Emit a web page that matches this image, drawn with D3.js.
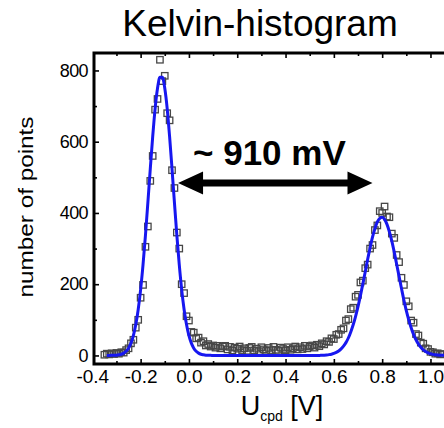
<!DOCTYPE html>
<html><head><meta charset="utf-8">
<script src="https://cdn.jsdelivr.net/npm/d3@7"></script>
<style>
html,body{margin:0;padding:0;background:#fff;}
svg{display:block;font-family:"Liberation Sans",Arial,Helvetica,sans-serif;}
</style></head>
<body><svg id="c" width="444" height="428"></svg>
<script>
// ---- data ----
const binVoltage = [
-0.35,-0.34,-0.33,-0.32,-0.31,-0.30,-0.29,-0.28,-0.27,-0.26,
-0.25,-0.24,-0.23,-0.22,-0.21,-0.20,-0.19,-0.18,-0.17,-0.16,
-0.15,-0.14,-0.13,-0.12,-0.11,-0.10,-0.09,-0.08,-0.07,-0.06,
-0.05,-0.04,-0.03,-0.02,-0.01,0.00,0.01,0.02,0.03,0.04,
0.05,0.06,0.07,0.08,0.09,0.10,0.11,0.12,0.13,0.14,
0.15,0.16,0.17,0.18,0.19,0.20,0.21,0.22,0.23,0.24,
0.25,0.26,0.27,0.28,0.29,0.30,0.31,0.32,0.33,0.34,
0.35,0.36,0.37,0.38,0.39,0.40,0.41,0.42,0.43,0.44,
0.45,0.46,0.47,0.48,0.49,0.50,0.51,0.52,0.53,0.54,
0.55,0.56,0.57,0.58,0.59,0.60,0.61,0.62,0.63,0.64,
0.65,0.66,0.67,0.68,0.69,0.70,0.71,0.72,0.73,0.74,
0.75,0.76,0.77,0.78,0.79,0.80,0.81,0.82,0.83,0.84,
0.85,0.86,0.87,0.88,0.89,0.90,0.91,0.92,0.93,0.94,
0.95,0.96,0.97,0.98,0.99,1.00,1.01,1.02,1.03,1.04,1.05];
const binCounts = [
2,5,3,6,4,7,5,9,8,15,
20,34,44,78,100,162,198,305,362,490,
560,690,720,830,770,785,680,660,520,470,
345,300,200,175,110,98,66,64,48,50,
36,40,28,32,25,28,22,27,20,25,
27,17,24,14,22,19,25,15,20,13,
21,24,14,19,12,23,17,13,21,15,
24,16,13,22,18,14,23,16,20,25,
17,23,18,27,20,25,28,22,30,26,
34,31,40,38,48,46,58,60,72,76,
98,102,130,134,165,170,205,210,245,255,
300,310,352,365,405,400,418,390,388,342,
330,282,262,218,198,152,138,98,92,60,
56,36,33,20,18,10,9,5,6,3,4];
const fitVoltage = [
-0.34,-0.33,-0.32,-0.31,-0.30,-0.29,-0.28,-0.27,-0.26,-0.25,
-0.24,-0.23,-0.22,-0.21,-0.20,-0.19,-0.18,-0.17,-0.16,-0.15,
-0.14,-0.13,-0.12,-0.11,-0.10,-0.09,-0.08,-0.07,-0.06,-0.05,
-0.04,-0.03,-0.02,-0.01,0.00,0.01,0.02,0.03,0.04,0.05,
0.06,0.07,0.08,0.09,0.10,0.11,0.12,0.13,0.14,0.15,
0.16,0.17,0.18,0.19,0.20,0.21,0.22,0.23,0.24,0.25,
0.26,0.27,0.28,0.29,0.30,0.31,0.32,0.33,0.34,0.35,
0.36,0.37,0.38,0.39,0.40,0.41,0.42,0.43,0.44,0.45,
0.46,0.47,0.48,0.49,0.50,0.51,0.52,0.53,0.54,0.55,
0.56,0.57,0.58,0.59,0.60,0.61,0.62,0.63,0.64,0.65,
0.66,0.67,0.68,0.69,0.70,0.71,0.72,0.73,0.74,0.75,
0.76,0.77,0.78,0.79,0.80,0.81,0.82,0.83,0.84,0.85,
0.86,0.87,0.88,0.89,0.90,0.91,0.92,0.93,0.94,0.95,
0.96,0.97,0.98,0.99,1.00,1.01,1.02,1.03,1.04,1.05,1.06];
const fitCounts = [
0,0.1,0.3,0.4,0.8,1.9,3.4,6.5,11.8,20.5,
34.5,55.7,86.6,129,185,255,337,429,524,614,
693,750,781,781,750,693,614,524,429,337,
255,185,129,86.6,55.7,34.5,20.5,11.8,6.5,3.4,
1.9,0.8,0.4,0.3,0.1,0,0,0,0,0,
0,0,0,0,0,0,0,0,0,0,
0,0,0,0,0,0,0,0,0,0,
0,0,0,0,0,0,0,0,0,0,
0,0,0,0,0,0,0,0,0,0.5,
0.8,1.4,2.3,3.6,5.6,8.5,12.5,18.3,26,36,
49,66,86,110,137,168,201,235,270,302,
332,356,375,385,388,382,368,347,321,290,
256,222,188,155,126,100,78,59,44,32,
23,16,11,7.3,4.7,3,1.8,1.1,0.6,0.3,0.2];
const xMajorTicks = [-0.4,-0.2,0.0,0.2,0.4,0.6,0.8,1.0];
const xTickLabels = ["-0.4","-0.2","0.0","0.2","0.4","0.6","0.8","1.0"];
const xMinorTicks = [-0.3,-0.1,0.1,0.3,0.5,0.7,0.9];
const yMajorTicks = [0,200,400,600,800];
const yTickLabels = ["0","200","400","600","800"];
const yMinorTicks = [100,300,500,700];
const titleText = "Kelvin-histogram";
const annotationText = "~ 910 mV";
const arrowFrom = -0.045, arrowTo = 0.76, arrowLevel = 484;

// ---- drawing ----
const svg = d3.select("#c");
const x = d3.scaleLinear().domain([-0.393, 1.056]).range([94, 444]);
const y = d3.scaleLinear().domain([-24, 849]).range([364, 53]);
const L = 94, R = 444, T = 53, B = 364;

svg.append("defs").append("clipPath").attr("id","clip")
  .append("rect").attr("x", L+1.5).attr("y", T+1.5).attr("width", R-L).attr("height", B-T-3);

// title
svg.append("text").attr("x", 260).attr("y", 36).attr("text-anchor","middle")
  .attr("font-size", 37).attr("fill","#000").text(titleText);

const plot = svg.append("g").attr("clip-path","url(#clip)");

// data squares
const pts = binVoltage.map((v,i)=>({v, c: binCounts[i]}));
plot.selectAll("rect.pt").data(pts).join("rect").attr("class","pt")
  .attr("x", d=>x(d.v)-3.2).attr("y", d=>y(d.c)-3.2).attr("width",6.4).attr("height",6.4)
  .attr("fill","none").attr("stroke","#474747").attr("stroke-width",1.3);

// fit line
const fit = fitVoltage.map((v,i)=>({v, c: fitCounts[i]}));
plot.append("path").datum(fit)
  .attr("d", d3.line().x(d=>x(d.v)).y(d=>y(d.c)).curve(d3.curveMonotoneX))
  .attr("fill","none").attr("stroke","#1717f0").attr("stroke-width",3).attr("stroke-linejoin","round");

// axes
const fontTick = 19;
const xAx = svg.append("g").attr("transform",`translate(0,${B})`)
  .call(d3.axisBottom(x).tickValues(xMajorTicks).tickSize(-5).tickPadding(6)
        .tickFormat((d,i)=>xTickLabels[i]));
xAx.select(".domain").remove();
xAx.selectAll("text").attr("font-size", fontTick).attr("font-family","Liberation Sans, Arial, sans-serif").attr("fill","#000");
xAx.selectAll("line").attr("stroke","#000").attr("stroke-width",1.6)
  .attr("display", d => (x(d) < L ? "none" : null));

const xMin = svg.append("g").attr("transform",`translate(0,${B})`)
  .call(d3.axisBottom(x).tickValues(xMinorTicks).tickSize(-3).tickFormat(""));
xMin.select(".domain").remove();
xMin.selectAll("line").attr("stroke","#000").attr("stroke-width",1.6);

const xTop = svg.append("g").attr("transform",`translate(0,${T})`)
  .call(d3.axisTop(x).tickValues(xMajorTicks.filter(v=>x(v)>L)).tickSize(-5).tickFormat(""));
xTop.select(".domain").remove();
xTop.selectAll("line").attr("stroke","#000").attr("stroke-width",1.6);
const xTopMin = svg.append("g").attr("transform",`translate(0,${T})`)
  .call(d3.axisTop(x).tickValues(xMinorTicks).tickSize(-3).tickFormat(""));
xTopMin.select(".domain").remove();
xTopMin.selectAll("line").attr("stroke","#000").attr("stroke-width",1.6);

const yAx = svg.append("g").attr("transform",`translate(${L},0)`)
  .call(d3.axisLeft(y).tickValues(yMajorTicks).tickSize(-5).tickPadding(6)
        .tickFormat((d,i)=>yTickLabels[i]));
yAx.select(".domain").remove();
yAx.selectAll("text").attr("font-size", 18).attr("letter-spacing", -0.6)
  .attr("font-family","Liberation Sans, Arial, sans-serif").attr("fill","#000");
yAx.selectAll("line").attr("stroke","#000").attr("stroke-width",1.6);
const yMin = svg.append("g").attr("transform",`translate(${L},0)`)
  .call(d3.axisLeft(y).tickValues(yMinorTicks).tickSize(-3).tickFormat(""));
yMin.select(".domain").remove();
yMin.selectAll("line").attr("stroke","#000").attr("stroke-width",1.6);

// frame
svg.append("path").attr("d", `M${R+5},${T} H${L} V${B} H${R+5}`)
  .attr("fill","none").attr("stroke","#000").attr("stroke-width",3);

// annotation arrow
const ax1 = x(arrowFrom), ax2 = x(arrowTo), ay = y(arrowLevel);
const hl = 25, hh = 11.5, sw = 3.5;
svg.append("path").attr("d",
  `M${ax1},${ay} L${ax1+hl},${ay-hh} L${ax1+hl},${ay-sw} L${ax2-hl},${ay-sw} L${ax2-hl},${ay-hh} L${ax2},${ay} L${ax2-hl},${ay+hh} L${ax2-hl},${ay+sw} L${ax1+hl},${ay+sw} L${ax1+hl},${ay+hh} Z`)
  .attr("fill","#000");
svg.append("text").attr("x", 193).attr("y", 165)
  .attr("font-size", 35).attr("font-weight","bold")
  .attr("fill","#000").text(annotationText);

// axis titles
const xl = svg.append("text").attr("x", 282).attr("y", 415).attr("text-anchor","middle").attr("fill","#000");
xl.append("tspan").attr("font-size", 27).text("U");
xl.append("tspan").attr("font-size", 14).attr("dy", 6).text("cpd");
xl.append("tspan").attr("font-size", 27).attr("dy", -6).text(" [V]");

svg.append("text").attr("transform","translate(33,207) rotate(-90)").attr("text-anchor","middle")
  .attr("font-size", 20).attr("textLength", 181).attr("lengthAdjust","spacingAndGlyphs")
  .attr("fill","#000").text("number of points");
</script></body></html>
